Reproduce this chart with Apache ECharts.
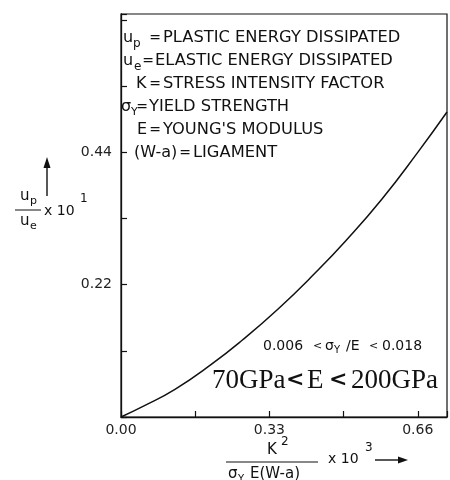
<!DOCTYPE html>
<html>
<head>
<meta charset="utf-8">
<script src="https://cdn.jsdelivr.net/npm/echarts@6/dist/echarts.min.js"></script>
<style>html,body{margin:0;padding:0;background:#fff;}#c{width:450px;height:480px;}</style>
</head>
<body>
<div id="c"></div>
<script>
// Data
const xValues = [0, 0.05, 0.12, 0.2, 0.27, 0.35, 0.43, 0.5, 0.58, 0.66, 0.725];
const yValues = [0, 0.018, 0.046, 0.087, 0.128, 0.18, 0.238, 0.293, 0.362, 0.44, 0.507];
const xTickLabels = ['0.00', '0.33', '0.66'];
const yTickLabels = ['0.22', '0.44'];

const INK = '#111';
const SANS = 'DejaVu Sans';
function T(x, y, text, size, opt) {
  opt = opt || {};
  return {
    type: 'text', x: x, y: y, silent: true,
    style: {
      text: text,
      font: (opt.weight || 'normal') + ' ' + size + 'px "' + (opt.family || SANS) + '"',
      fill: INK,
      align: opt.align || 'left',
      verticalAlign: 'middle'
    }
  };
}
function EQ(cx, y) { return T(cx, y, '=', 14, { align: 'center' }); }
function L(x1, y1, x2, y2, w) {
  return { type: 'line', silent: true, shape: { x1: x1, y1: y1, x2: x2, y2: y2 },
           style: { stroke: INK, lineWidth: w || 1.2 } };
}
function Tri(points) {
  return { type: 'polygon', silent: true, shape: { points: points }, style: { fill: INK } };
}

const rows = [38, 61, 84, 107, 130, 153];
const graphics = [
  // legend block
  T(123, rows[0], 'u', 16), T(133, rows[0] + 6, 'p', 12), EQ(155, rows[0]), T(163, rows[0], 'PLASTIC ENERGY DISSIPATED', 16.3),
  T(123, rows[1], 'u', 16), T(134, rows[1] + 6, 'e', 12), EQ(148, rows[1]), T(155, rows[1], 'ELASTIC ENERGY DISSIPATED', 16.3),
  T(136, rows[2], 'K', 16), EQ(155, rows[2]), T(163, rows[2], 'STRESS INTENSITY FACTOR', 16.3),
  T(121, rows[3], 'σ', 16), T(131, rows[3] + 5, 'Y', 11), EQ(142, rows[3]), T(149, rows[3], 'YIELD STRENGTH', 16.3),
  T(137, rows[4], 'E', 16), EQ(155, rows[4]), T(163, rows[4], "YOUNG'S MODULUS", 16.3),
  T(134, rows[5], '(W-a)', 16), EQ(185, rows[5]), T(193, rows[5], 'LIGAMENT', 16.3),

  // y axis title
  T(20, 196, 'u', 15), T(30, 201, 'p', 11),
  L(15, 210, 41, 210, 1),
  T(20, 221, 'u', 15), T(30, 226, 'e', 11),
  T(44, 211, 'x 10', 14), T(80, 199, '1', 12),
  L(47, 196, 47, 166, 1.4), Tri([[47, 157], [43.5, 168], [50.5, 168]]),

  // x axis title
  T(267, 450, 'K', 15), T(281, 442, '2', 12),
  L(226, 462, 318, 462, 1),
  T(228, 474, 'σ', 15), T(238, 479, 'Y', 10), T(250, 474, 'E(W-a)', 15),
  T(328, 459, 'x 10', 14), T(365, 448, '3', 12),
  L(375, 460, 399, 460, 1.4), Tri([[408, 460], [398, 456.5], [398, 463.5]]),

  // annotations
  T(263, 346, '0.006', 14), T(313, 346, '<', 11), T(325, 346, 'σ', 14), T(334, 350, 'Y', 10),
  T(346, 346, '/E', 14), T(369, 346, '<', 11), T(382, 346, '0.018', 14),
  T(212, 381, '70GPa', 27, { family: 'Liberation Serif' }),
  T(286, 380, '<', 22, { weight: 'bold' }),
  T(307, 381, 'E', 27, { family: 'Liberation Serif' }),
  T(329, 380, '<', 22, { weight: 'bold' }),
  T(351, 381, '200GPa', 27, { family: 'Liberation Serif' })
];

const chart = echarts.init(document.getElementById('c'), null, { renderer: 'canvas' });
chart.setOption({
  animation: false,
  backgroundColor: '#fff',
  grid: { left: 121, right: 2, top: 14, bottom: 63, show: true, borderColor: INK, borderWidth: 1.2, backgroundColor: 'transparent' },
  xAxis: {
    type: 'value', min: 0, max: 0.725, interval: 0.165,
    axisLine: { show: true, lineStyle: { color: INK, width: 1.3 } },
    axisTick: { show: true, inside: true, length: 6, lineStyle: { color: INK, width: 1.2 } },
    splitLine: { show: false },
    axisLabel: {
      color: '#222', fontFamily: SANS, fontSize: 14, margin: 6,
      formatter: function (v) { const s = v.toFixed(2); return xTickLabels.indexOf(s) >= 0 ? s : ''; }
    }
  },
  yAxis: {
    type: 'value', min: 0, max: 0.67, interval: 0.11,
    axisLine: { show: true, lineStyle: { color: INK, width: 1.3 } },
    axisTick: { show: true, inside: true, length: 6, lineStyle: { color: INK, width: 1.2 } },
    splitLine: { show: false },
    axisLabel: {
      color: '#222', fontFamily: SANS, fontSize: 14, margin: 9,
      formatter: function (v) { const s = v.toFixed(2); return yTickLabels.indexOf(s) >= 0 ? s : ''; }
    }
  },
  series: [{
    type: 'line',
    data: xValues.map(function (x, i) { return [x, yValues[i]]; }),
    smooth: 0.5, symbol: 'none', clip: true,
    lineStyle: { color: INK, width: 1.5 }
  }],
  graphic: graphics
});
</script>
</body>
</html>
